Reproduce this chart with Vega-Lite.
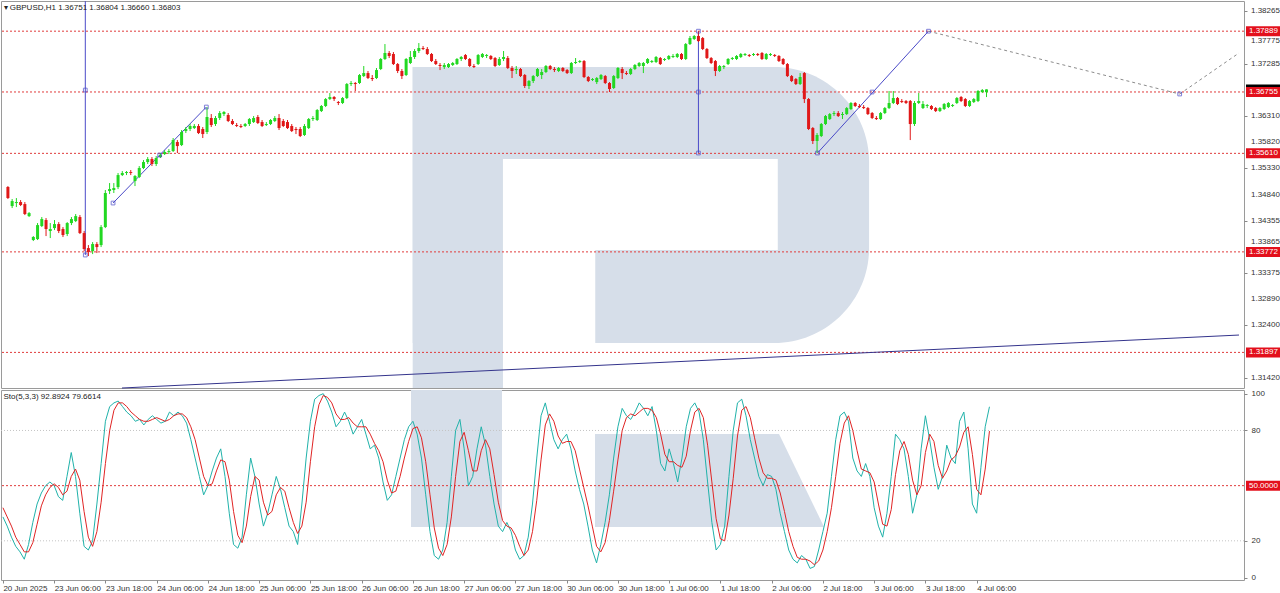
{
"$schema": "https://vega.github.io/schema/vega-lite/v6.json",
"padding": 0,
"autosize": {"type": "pad"},
"background": "white",
"spacing": 0,
"config": {"font": "Liberation Sans", "view": {"stroke": "#9a9a9a", "strokeWidth": 1}, "axis": {"grid": false}},
"datasets": {
"bars": [
{"i":0,"o":1.34981,"h":1.35000,"l":1.34758,"c":1.34776,"k":33,"d":38},
{"i":1,"o":1.34627,"h":1.34758,"l":1.34590,"c":1.34720,"k":28,"d":33},
{"i":2,"o":1.34683,"h":1.34776,"l":1.34608,"c":1.34702,"k":22,"d":28},
{"i":3,"o":1.34702,"h":1.34739,"l":1.34627,"c":1.34646,"k":17,"d":22},
{"i":4,"o":1.34664,"h":1.34702,"l":1.34459,"c":1.34478,"k":14,"d":18},
{"i":5,"o":1.34440,"h":1.34515,"l":1.34422,"c":1.34496,"k":10,"d":14},
{"i":6,"o":1.33993,"h":1.34067,"l":1.33974,"c":1.34049,"k":18,"d":14},
{"i":7,"o":1.34011,"h":1.34310,"l":1.33993,"c":1.34272,"k":30,"d":19},
{"i":8,"o":1.34254,"h":1.34422,"l":1.34235,"c":1.34384,"k":40,"d":29},
{"i":9,"o":1.34366,"h":1.34403,"l":1.34067,"c":1.34198,"k":46,"d":39},
{"i":10,"o":1.34161,"h":1.34310,"l":1.34030,"c":1.34198,"k":50,"d":45},
{"i":11,"o":1.34216,"h":1.34366,"l":1.34179,"c":1.34291,"k":52,"d":49},
{"i":12,"o":1.34291,"h":1.34328,"l":1.34123,"c":1.34161,"k":50,"d":51},
{"i":13,"o":1.34198,"h":1.34235,"l":1.34049,"c":1.34086,"k":44,"d":49},
{"i":14,"o":1.34105,"h":1.34328,"l":1.34067,"c":1.34310,"k":42,"d":45},
{"i":15,"o":1.34310,"h":1.34422,"l":1.34272,"c":1.34384,"k":55,"d":47},
{"i":16,"o":1.34347,"h":1.34478,"l":1.34328,"c":1.34440,"k":68,"d":55},
{"i":17,"o":1.34422,"h":1.34459,"l":1.34105,"c":1.34123,"k":55,"d":59},
{"i":18,"o":1.34123,"h":1.34161,"l":1.33787,"c":1.33825,"k":35,"d":53},
{"i":19,"o":1.33843,"h":1.33899,"l":1.33694,"c":1.33769,"k":17,"d":36},
{"i":20,"o":1.33787,"h":1.33955,"l":1.33731,"c":1.33918,"k":15,"d":22},
{"i":21,"o":1.33918,"h":1.33955,"l":1.33750,"c":1.33862,"k":20,"d":17},
{"i":22,"o":1.33899,"h":1.34272,"l":1.33862,"c":1.34235,"k":40,"d":25},
{"i":23,"o":1.34235,"h":1.34926,"l":1.34216,"c":1.34870,"k":62,"d":41},
{"i":24,"o":1.34907,"h":1.35056,"l":1.34851,"c":1.34944,"k":85,"d":62},
{"i":25,"o":1.34926,"h":1.35056,"l":1.34870,"c":1.34963,"k":93,"d":80},
{"i":26,"o":1.34981,"h":1.35243,"l":1.34944,"c":1.35205,"k":95,"d":91},
{"i":27,"o":1.35205,"h":1.35280,"l":1.35187,"c":1.35243,"k":96,"d":95},
{"i":28,"o":1.35243,"h":1.35280,"l":1.35205,"c":1.35261,"k":93,"d":95},
{"i":29,"o":1.35261,"h":1.35299,"l":1.35205,"c":1.35243,"k":90,"d":93},
{"i":30,"o":1.35093,"h":1.35205,"l":1.35000,"c":1.35187,"k":88,"d":90},
{"i":31,"o":1.35168,"h":1.35373,"l":1.35149,"c":1.35336,"k":85,"d":88},
{"i":32,"o":1.35336,"h":1.35485,"l":1.35317,"c":1.35448,"k":86,"d":86},
{"i":33,"o":1.35448,"h":1.35541,"l":1.35411,"c":1.35504,"k":83,"d":85},
{"i":34,"o":1.35504,"h":1.35541,"l":1.35373,"c":1.35411,"k":86,"d":85},
{"i":35,"o":1.35411,"h":1.35560,"l":1.35373,"c":1.35523,"k":88,"d":86},
{"i":36,"o":1.35541,"h":1.35616,"l":1.35523,"c":1.35579,"k":86,"d":87},
{"i":37,"o":1.35597,"h":1.35672,"l":1.35579,"c":1.35635,"k":84,"d":86},
{"i":38,"o":1.35635,"h":1.35690,"l":1.35597,"c":1.35653,"k":85,"d":85},
{"i":39,"o":1.35653,"h":1.35896,"l":1.35635,"c":1.35858,"k":90,"d":86},
{"i":40,"o":1.35821,"h":1.35858,"l":1.35616,"c":1.35746,"k":88,"d":88},
{"i":41,"o":1.35765,"h":1.36045,"l":1.35746,"c":1.36008,"k":90,"d":89},
{"i":42,"o":1.36026,"h":1.36101,"l":1.35989,"c":1.36064,"k":88,"d":89},
{"i":43,"o":1.36064,"h":1.36157,"l":1.36026,"c":1.36120,"k":84,"d":87},
{"i":44,"o":1.36082,"h":1.36157,"l":1.36064,"c":1.36120,"k":75,"d":82},
{"i":45,"o":1.36120,"h":1.36157,"l":1.35970,"c":1.35989,"k":65,"d":75},
{"i":46,"o":1.36064,"h":1.36101,"l":1.35896,"c":1.35970,"k":55,"d":65},
{"i":47,"o":1.36008,"h":1.36474,"l":1.35970,"c":1.36288,"k":45,"d":55},
{"i":48,"o":1.36269,"h":1.36343,"l":1.36101,"c":1.36138,"k":50,"d":50},
{"i":49,"o":1.36157,"h":1.36306,"l":1.36120,"c":1.36269,"k":58,"d":51},
{"i":50,"o":1.36269,"h":1.36399,"l":1.36232,"c":1.36362,"k":65,"d":58},
{"i":51,"o":1.36343,"h":1.36399,"l":1.36306,"c":1.36381,"k":70,"d":64},
{"i":52,"o":1.36325,"h":1.36362,"l":1.36194,"c":1.36213,"k":55,"d":63},
{"i":53,"o":1.36213,"h":1.36250,"l":1.36138,"c":1.36157,"k":35,"d":53},
{"i":54,"o":1.36138,"h":1.36176,"l":1.36101,"c":1.36120,"k":18,"d":36},
{"i":55,"o":1.36120,"h":1.36157,"l":1.36082,"c":1.36101,"k":16,"d":23},
{"i":56,"o":1.36120,"h":1.36176,"l":1.36101,"c":1.36157,"k":22,"d":19},
{"i":57,"o":1.36157,"h":1.36269,"l":1.36120,"c":1.36250,"k":45,"d":28},
{"i":58,"o":1.36194,"h":1.36306,"l":1.36176,"c":1.36269,"k":65,"d":44},
{"i":59,"o":1.36288,"h":1.36325,"l":1.36157,"c":1.36176,"k":55,"d":55},
{"i":60,"o":1.36194,"h":1.36232,"l":1.36101,"c":1.36120,"k":40,"d":53},
{"i":61,"o":1.36138,"h":1.36194,"l":1.36120,"c":1.36157,"k":28,"d":41},
{"i":62,"o":1.36157,"h":1.36250,"l":1.36138,"c":1.36232,"k":35,"d":34},
{"i":63,"o":1.36213,"h":1.36306,"l":1.36194,"c":1.36269,"k":45,"d":36},
{"i":64,"o":1.36269,"h":1.36343,"l":1.36045,"c":1.36082,"k":55,"d":45},
{"i":65,"o":1.36213,"h":1.36250,"l":1.36101,"c":1.36120,"k":48,"d":49},
{"i":66,"o":1.36194,"h":1.36232,"l":1.36064,"c":1.36082,"k":38,"d":47},
{"i":67,"o":1.36120,"h":1.36157,"l":1.36008,"c":1.36026,"k":28,"d":38},
{"i":68,"o":1.36064,"h":1.36101,"l":1.35970,"c":1.36045,"k":25,"d":30},
{"i":69,"o":1.36064,"h":1.36101,"l":1.35914,"c":1.35933,"k":18,"d":24},
{"i":70,"o":1.35952,"h":1.36157,"l":1.35933,"c":1.36120,"k":40,"d":28},
{"i":71,"o":1.36082,"h":1.36269,"l":1.36064,"c":1.36250,"k":65,"d":41},
{"i":72,"o":1.36250,"h":1.36306,"l":1.36213,"c":1.36269,"k":85,"d":63},
{"i":73,"o":1.36232,"h":1.36437,"l":1.36213,"c":1.36418,"k":97,"d":82},
{"i":74,"o":1.36399,"h":1.36511,"l":1.36381,"c":1.36493,"k":99,"d":94},
{"i":75,"o":1.36493,"h":1.36642,"l":1.36474,"c":1.36623,"k":100,"d":99},
{"i":76,"o":1.36623,"h":1.36735,"l":1.36605,"c":1.36661,"k":96,"d":98},
{"i":77,"o":1.36661,"h":1.36679,"l":1.36586,"c":1.36623,"k":90,"d":95},
{"i":78,"o":1.36567,"h":1.36586,"l":1.36511,"c":1.36549,"k":82,"d":89},
{"i":79,"o":1.36549,"h":1.36661,"l":1.36530,"c":1.36642,"k":85,"d":86},
{"i":80,"o":1.36642,"h":1.36922,"l":1.36623,"c":1.36903,"k":90,"d":86},
{"i":81,"o":1.36903,"h":1.36959,"l":1.36866,"c":1.36922,"k":85,"d":87},
{"i":82,"o":1.36922,"h":1.36940,"l":1.36773,"c":1.36903,"k":78,"d":84},
{"i":83,"o":1.36922,"h":1.37090,"l":1.36903,"c":1.37071,"k":82,"d":82},
{"i":84,"o":1.37052,"h":1.37239,"l":1.37034,"c":1.37108,"k":86,"d":82},
{"i":85,"o":1.37108,"h":1.37146,"l":1.36996,"c":1.37015,"k":78,"d":82},
{"i":86,"o":1.37015,"h":1.37071,"l":1.36959,"c":1.36996,"k":70,"d":78},
{"i":87,"o":1.37015,"h":1.37202,"l":1.36996,"c":1.37164,"k":72,"d":73},
{"i":88,"o":1.37183,"h":1.37388,"l":1.37164,"c":1.37370,"k":65,"d":69},
{"i":89,"o":1.37370,"h":1.37649,"l":1.37351,"c":1.37482,"k":52,"d":63},
{"i":90,"o":1.37482,"h":1.37519,"l":1.37388,"c":1.37426,"k":42,"d":53},
{"i":91,"o":1.37463,"h":1.37500,"l":1.37258,"c":1.37276,"k":45,"d":46},
{"i":92,"o":1.37276,"h":1.37295,"l":1.37108,"c":1.37146,"k":55,"d":47},
{"i":93,"o":1.37146,"h":1.37183,"l":1.36996,"c":1.37052,"k":65,"d":55},
{"i":94,"o":1.37071,"h":1.37388,"l":1.37052,"c":1.37370,"k":75,"d":65},
{"i":95,"o":1.37295,"h":1.37519,"l":1.37276,"c":1.37407,"k":82,"d":74},
{"i":96,"o":1.37407,"h":1.37556,"l":1.37370,"c":1.37519,"k":85,"d":81},
{"i":97,"o":1.37519,"h":1.37668,"l":1.37482,"c":1.37575,"k":78,"d":82},
{"i":98,"o":1.37575,"h":1.37612,"l":1.37537,"c":1.37556,"k":65,"d":76},
{"i":99,"o":1.37556,"h":1.37593,"l":1.37444,"c":1.37463,"k":45,"d":63},
{"i":100,"o":1.37463,"h":1.37482,"l":1.37314,"c":1.37332,"k":25,"d":45},
{"i":101,"o":1.37332,"h":1.37370,"l":1.37258,"c":1.37276,"k":12,"d":27},
{"i":102,"o":1.37258,"h":1.37295,"l":1.37164,"c":1.37239,"k":10,"d":16},
{"i":103,"o":1.37220,"h":1.37295,"l":1.37183,"c":1.37258,"k":15,"d":12},
{"i":104,"o":1.37220,"h":1.37295,"l":1.37202,"c":1.37276,"k":30,"d":18},
{"i":105,"o":1.37258,"h":1.37314,"l":1.37239,"c":1.37295,"k":55,"d":33},
{"i":106,"o":1.37276,"h":1.37388,"l":1.37258,"c":1.37370,"k":80,"d":55},
{"i":107,"o":1.37370,"h":1.37426,"l":1.37332,"c":1.37407,"k":86,"d":74},
{"i":108,"o":1.37444,"h":1.37463,"l":1.37351,"c":1.37370,"k":70,"d":79},
{"i":109,"o":1.37370,"h":1.37388,"l":1.37220,"c":1.37239,"k":50,"d":69},
{"i":110,"o":1.37239,"h":1.37276,"l":1.37202,"c":1.37220,"k":55,"d":58},
{"i":111,"o":1.37276,"h":1.37463,"l":1.37258,"c":1.37444,"k":70,"d":58},
{"i":112,"o":1.37407,"h":1.37482,"l":1.37388,"c":1.37463,"k":82,"d":69},
{"i":113,"o":1.37426,"h":1.37463,"l":1.37388,"c":1.37444,"k":72,"d":75},
{"i":114,"o":1.37426,"h":1.37444,"l":1.37351,"c":1.37370,"k":55,"d":70},
{"i":115,"o":1.37388,"h":1.37407,"l":1.37220,"c":1.37239,"k":40,"d":56},
{"i":116,"o":1.37258,"h":1.37407,"l":1.37239,"c":1.37370,"k":28,"d":41},
{"i":117,"o":1.37370,"h":1.37519,"l":1.37332,"c":1.37407,"k":25,"d":31},
{"i":118,"o":1.37388,"h":1.37426,"l":1.37183,"c":1.37202,"k":30,"d":28},
{"i":119,"o":1.37202,"h":1.37239,"l":1.37015,"c":1.37146,"k":25,"d":27},
{"i":120,"o":1.37164,"h":1.37239,"l":1.37090,"c":1.37183,"k":15,"d":23},
{"i":121,"o":1.37183,"h":1.37202,"l":1.37034,"c":1.37052,"k":10,"d":17},
{"i":122,"o":1.37071,"h":1.37090,"l":1.36829,"c":1.36866,"k":12,"d":12},
{"i":123,"o":1.36866,"h":1.36978,"l":1.36810,"c":1.36959,"k":22,"d":15},
{"i":124,"o":1.36959,"h":1.37071,"l":1.36922,"c":1.37052,"k":40,"d":25},
{"i":125,"o":1.37052,"h":1.37202,"l":1.37034,"c":1.37183,"k":65,"d":42},
{"i":126,"o":1.37071,"h":1.37183,"l":1.36996,"c":1.37127,"k":88,"d":64},
{"i":127,"o":1.37127,"h":1.37258,"l":1.37108,"c":1.37239,"k":95,"d":83},
{"i":128,"o":1.37239,"h":1.37258,"l":1.37164,"c":1.37183,"k":85,"d":89},
{"i":129,"o":1.37183,"h":1.37220,"l":1.37127,"c":1.37164,"k":75,"d":85},
{"i":130,"o":1.37146,"h":1.37220,"l":1.37127,"c":1.37202,"k":70,"d":77},
{"i":131,"o":1.37202,"h":1.37220,"l":1.37127,"c":1.37146,"k":75,"d":73},
{"i":132,"o":1.37164,"h":1.37183,"l":1.37090,"c":1.37108,"k":78,"d":74},
{"i":133,"o":1.37108,"h":1.37314,"l":1.37090,"c":1.37295,"k":70,"d":74},
{"i":134,"o":1.37295,"h":1.37388,"l":1.37276,"c":1.37314,"k":58,"d":69},
{"i":135,"o":1.37314,"h":1.37351,"l":1.37295,"c":1.37332,"k":48,"d":59},
{"i":136,"o":1.37332,"h":1.37351,"l":1.37015,"c":1.37034,"k":40,"d":49},
{"i":137,"o":1.37034,"h":1.37052,"l":1.36940,"c":1.36959,"k":28,"d":39},
{"i":138,"o":1.36978,"h":1.37015,"l":1.36959,"c":1.36996,"k":15,"d":28},
{"i":139,"o":1.36940,"h":1.37034,"l":1.36903,"c":1.37015,"k":8,"d":17},
{"i":140,"o":1.36996,"h":1.37090,"l":1.36978,"c":1.37071,"k":18,"d":14},
{"i":141,"o":1.37052,"h":1.37071,"l":1.36903,"c":1.36922,"k":30,"d":19},
{"i":142,"o":1.36922,"h":1.36940,"l":1.36754,"c":1.36810,"k":45,"d":31},
{"i":143,"o":1.36829,"h":1.37071,"l":1.36810,"c":1.37052,"k":65,"d":47},
{"i":144,"o":1.37015,"h":1.37220,"l":1.36996,"c":1.37202,"k":82,"d":64},
{"i":145,"o":1.37183,"h":1.37220,"l":1.36996,"c":1.37108,"k":92,"d":80},
{"i":146,"o":1.37108,"h":1.37146,"l":1.37071,"c":1.37090,"k":88,"d":87},
{"i":147,"o":1.37090,"h":1.37202,"l":1.37071,"c":1.37183,"k":86,"d":89},
{"i":148,"o":1.37183,"h":1.37276,"l":1.37164,"c":1.37258,"k":90,"d":88},
{"i":149,"o":1.37239,"h":1.37314,"l":1.37220,"c":1.37295,"k":95,"d":90},
{"i":150,"o":1.37239,"h":1.37314,"l":1.37108,"c":1.37295,"k":92,"d":92},
{"i":151,"o":1.37295,"h":1.37388,"l":1.37276,"c":1.37370,"k":88,"d":92},
{"i":152,"o":1.37314,"h":1.37351,"l":1.37295,"c":1.37332,"k":93,"d":91},
{"i":153,"o":1.37314,"h":1.37426,"l":1.37295,"c":1.37407,"k":80,"d":87},
{"i":154,"o":1.37388,"h":1.37407,"l":1.37258,"c":1.37276,"k":62,"d":78},
{"i":155,"o":1.37351,"h":1.37388,"l":1.37332,"c":1.37370,"k":58,"d":67},
{"i":156,"o":1.37370,"h":1.37444,"l":1.37351,"c":1.37426,"k":70,"d":63},
{"i":157,"o":1.37407,"h":1.37463,"l":1.37388,"c":1.37426,"k":62,"d":63},
{"i":158,"o":1.37407,"h":1.37482,"l":1.37388,"c":1.37463,"k":52,"d":61},
{"i":159,"o":1.37463,"h":1.37482,"l":1.37351,"c":1.37370,"k":65,"d":60},
{"i":160,"o":1.37370,"h":1.37668,"l":1.37351,"c":1.37649,"k":82,"d":66},
{"i":161,"o":1.37649,"h":1.37799,"l":1.37631,"c":1.37761,"k":92,"d":80},
{"i":162,"o":1.37743,"h":1.37817,"l":1.37724,"c":1.37799,"k":95,"d":90},
{"i":163,"o":1.37799,"h":1.37889,"l":1.37687,"c":1.37705,"k":90,"d":92},
{"i":164,"o":1.37761,"h":1.37780,"l":1.37537,"c":1.37556,"k":75,"d":87},
{"i":165,"o":1.37556,"h":1.37575,"l":1.37370,"c":1.37388,"k":52,"d":72},
{"i":166,"o":1.37388,"h":1.37407,"l":1.37276,"c":1.37295,"k":30,"d":52},
{"i":167,"o":1.37332,"h":1.37351,"l":1.37052,"c":1.37146,"k":15,"d":32},
{"i":168,"o":1.37146,"h":1.37258,"l":1.37127,"c":1.37239,"k":18,"d":21},
{"i":169,"o":1.37220,"h":1.37258,"l":1.37183,"c":1.37239,"k":28,"d":20},
{"i":170,"o":1.37276,"h":1.37388,"l":1.37258,"c":1.37370,"k":55,"d":34},
{"i":171,"o":1.37370,"h":1.37407,"l":1.37351,"c":1.37388,"k":80,"d":54},
{"i":172,"o":1.37370,"h":1.37444,"l":1.37351,"c":1.37426,"k":95,"d":77},
{"i":173,"o":1.37407,"h":1.37482,"l":1.37388,"c":1.37463,"k":97,"d":91},
{"i":174,"o":1.37444,"h":1.37482,"l":1.37426,"c":1.37463,"k":88,"d":93},
{"i":175,"o":1.37444,"h":1.37463,"l":1.37407,"c":1.37426,"k":75,"d":87},
{"i":176,"o":1.37444,"h":1.37482,"l":1.37426,"c":1.37463,"k":65,"d":76},
{"i":177,"o":1.37463,"h":1.37482,"l":1.37426,"c":1.37444,"k":55,"d":65},
{"i":178,"o":1.37482,"h":1.37500,"l":1.37351,"c":1.37370,"k":50,"d":57},
{"i":179,"o":1.37370,"h":1.37482,"l":1.37351,"c":1.37463,"k":56,"d":54},
{"i":180,"o":1.37444,"h":1.37482,"l":1.37426,"c":1.37463,"k":55,"d":54},
{"i":181,"o":1.37444,"h":1.37463,"l":1.37407,"c":1.37426,"k":48,"d":53},
{"i":182,"o":1.37426,"h":1.37444,"l":1.37314,"c":1.37332,"k":35,"d":46},
{"i":183,"o":1.37370,"h":1.37388,"l":1.37258,"c":1.37276,"k":25,"d":36},
{"i":184,"o":1.37276,"h":1.37295,"l":1.37034,"c":1.37052,"k":15,"d":25},
{"i":185,"o":1.37052,"h":1.37071,"l":1.36940,"c":1.36959,"k":10,"d":17},
{"i":186,"o":1.36996,"h":1.37015,"l":1.36885,"c":1.36903,"k":8,"d":11},
{"i":187,"o":1.36903,"h":1.37108,"l":1.36885,"c":1.37034,"k":12,"d":10},
{"i":188,"o":1.37108,"h":1.37127,"l":1.36549,"c":1.36623,"k":10,"d":10},
{"i":189,"o":1.36623,"h":1.36642,"l":1.36045,"c":1.36064,"k":5,"d":9},
{"i":190,"o":1.36082,"h":1.36101,"l":1.35784,"c":1.35840,"k":6,"d":7},
{"i":191,"o":1.35840,"h":1.35989,"l":1.35616,"c":1.35952,"k":15,"d":9},
{"i":192,"o":1.35933,"h":1.36176,"l":1.35914,"c":1.36157,"k":25,"d":15},
{"i":193,"o":1.36157,"h":1.36325,"l":1.36138,"c":1.36306,"k":35,"d":25},
{"i":194,"o":1.36250,"h":1.36362,"l":1.36232,"c":1.36343,"k":55,"d":38},
{"i":195,"o":1.36343,"h":1.36399,"l":1.36306,"c":1.36362,"k":75,"d":55},
{"i":196,"o":1.36362,"h":1.36399,"l":1.36288,"c":1.36306,"k":88,"d":73},
{"i":197,"o":1.36325,"h":1.36381,"l":1.36250,"c":1.36343,"k":90,"d":84},
{"i":198,"o":1.36343,"h":1.36474,"l":1.36325,"c":1.36455,"k":85,"d":88},
{"i":199,"o":1.36437,"h":1.36567,"l":1.36418,"c":1.36549,"k":65,"d":80},
{"i":200,"o":1.36549,"h":1.36567,"l":1.36474,"c":1.36493,"k":58,"d":69},
{"i":201,"o":1.36493,"h":1.36530,"l":1.36455,"c":1.36474,"k":55,"d":59},
{"i":202,"o":1.36474,"h":1.36511,"l":1.36437,"c":1.36455,"k":62,"d":58},
{"i":203,"o":1.36455,"h":1.36474,"l":1.36325,"c":1.36343,"k":55,"d":57},
{"i":204,"o":1.36362,"h":1.36381,"l":1.36250,"c":1.36269,"k":38,"d":52},
{"i":205,"o":1.36269,"h":1.36306,"l":1.36232,"c":1.36250,"k":28,"d":40},
{"i":206,"o":1.36250,"h":1.36381,"l":1.36232,"c":1.36362,"k":22,"d":29},
{"i":207,"o":1.36362,"h":1.36474,"l":1.36343,"c":1.36455,"k":35,"d":28},
{"i":208,"o":1.36455,"h":1.36773,"l":1.36437,"c":1.36549,"k":55,"d":37},
{"i":209,"o":1.36549,"h":1.36773,"l":1.36530,"c":1.36642,"k":78,"d":56},
{"i":210,"o":1.36642,"h":1.36661,"l":1.36511,"c":1.36530,"k":75,"d":69},
{"i":211,"o":1.36586,"h":1.36623,"l":1.36549,"c":1.36567,"k":70,"d":74},
{"i":212,"o":1.36586,"h":1.36605,"l":1.36530,"c":1.36549,"k":55,"d":67},
{"i":213,"o":1.36586,"h":1.36605,"l":1.35858,"c":1.36157,"k":35,"d":53},
{"i":214,"o":1.36157,"h":1.36586,"l":1.36120,"c":1.36549,"k":45,"d":45},
{"i":215,"o":1.36549,"h":1.36735,"l":1.36530,"c":1.36586,"k":70,"d":50},
{"i":216,"o":1.36455,"h":1.36586,"l":1.36437,"c":1.36530,"k":88,"d":68},
{"i":217,"o":1.36493,"h":1.36530,"l":1.36455,"c":1.36511,"k":75,"d":78},
{"i":218,"o":1.36493,"h":1.36511,"l":1.36418,"c":1.36437,"k":60,"d":74},
{"i":219,"o":1.36455,"h":1.36474,"l":1.36381,"c":1.36399,"k":48,"d":61},
{"i":220,"o":1.36399,"h":1.36474,"l":1.36381,"c":1.36455,"k":55,"d":54},
{"i":221,"o":1.36437,"h":1.36549,"l":1.36418,"c":1.36530,"k":72,"d":58},
{"i":222,"o":1.36474,"h":1.36567,"l":1.36455,"c":1.36549,"k":65,"d":64},
{"i":223,"o":1.36493,"h":1.36530,"l":1.36474,"c":1.36511,"k":62,"d":66},
{"i":224,"o":1.36549,"h":1.36661,"l":1.36530,"c":1.36642,"k":85,"d":71},
{"i":225,"o":1.36661,"h":1.36679,"l":1.36567,"c":1.36586,"k":90,"d":79},
{"i":226,"o":1.36623,"h":1.36642,"l":1.36474,"c":1.36493,"k":70,"d":82},
{"i":227,"o":1.36493,"h":1.36605,"l":1.36474,"c":1.36586,"k":40,"d":67},
{"i":228,"o":1.36567,"h":1.36642,"l":1.36549,"c":1.36623,"k":35,"d":48},
{"i":229,"o":1.36586,"h":1.36791,"l":1.36567,"c":1.36773,"k":60,"d":45},
{"i":230,"o":1.36754,"h":1.36810,"l":1.36735,"c":1.36791,"k":82,"d":59},
{"i":231,"o":1.36751,"h":1.36804,"l":1.36660,"c":1.36803,"k":92.8924,"d":79.6614}
],
"segs": [
{"name":"trend","i1":26.93,"p1":1.31233,"i2":290.6,"p2":1.32221},
{"name":"wave","i1":18.27,"p1":1.3845,"i2":18.27,"p2":1.33713},
{"name":"wave","i1":24.82,"p1":1.34683,"i2":46.84,"p2":1.36474},
{"name":"wave","i1":163,"p1":1.37889,"i2":163,"p2":1.35616},
{"name":"wave","i1":191.1,"p1":1.35616,"i2":217.3,"p2":1.37889},
{"name":"fc","i1":217.3,"p1":1.37889,"i2":276.6,"p2":1.36717},
{"name":"fc","i1":276.6,"p1":1.36717,"i2":290.6,"p2":1.37482}
],
"marks": [
{"i":18.27,"p":1.36791},{"i":18.27,"p":1.33713},{"i":24.82,"p":1.34683},{"i":35.83,"p":1.35579},{"i":46.84,"p":1.36474},
{"i":163,"p":1.37889},{"i":163,"p":1.36754},{"i":163,"p":1.35616},{"i":191.1,"p":1.35616},{"i":203.98,"p":1.36754},{"i":217.3,"p":1.37889},{"i":276.6,"p":1.36717}
],
"levels": [{"p":1.37889},{"p":1.36755},{"p":1.3561},{"p":1.33772},{"p":1.31897}],
"pticks": [{"p":1.38265},{"p":1.37775},{"p":1.37285},{"p":1.3631},{"p":1.3582},{"p":1.3533},{"p":1.3484},{"p":1.34355},{"p":1.33865},{"p":1.33375},{"p":1.3289},{"p":1.324},{"p":1.3142}],
"bid": [{"p":1.36803}],
"flagsTop": [
{"p":1.37889,"label":"1.37889"},
{"p":1.36755,"label":"1.36755"},
{"p":1.3561,"label":"1.35610"},
{"p":1.33772,"label":"1.33772"},
{"p":1.31897,"label":"1.31897"}
],
"wmTop": [
{"part":"stem","i1":95.55,"i2":116.86,"p1":1.3722,"p2":1.31233},
{"part":"bowl","i1":95.55,"i2":203.28,"p1":1.3722,"p2":1.32072},
{"part":"hole","i1":116.86,"i2":181.73,"p1":1.35504,"p2":1.33806},
{"part":"hole","i1":116.86,"i2":138.64,"p1":1.35504,"p2":1.32072}
],
"wmBot": [{"i1":95.55,"i2":116.86,"v1":102,"v2":27.5}],
"leg": [{"i":138.64,"top":78.1,"bot":27.5},{"i":181.73,"top":78.1,"bot":27.5},{"i":192.27,"top":27.5,"bot":27.5}],
"stochLv": [{"v":20,"kind":"g"},{"v":80,"kind":"g"},{"v":50,"kind":"r"}],
"flagsBot": [{"v":50,"label":"50.0000"}]
},
"resolve": {"scale": {"x": "independent", "y": "independent"}},
"vconcat": [
{
"width": 1243, "height": 387,
"title": {"text": "▾ GBPUSD,H1  1.36751 1.36804 1.36660 1.36803", "anchor": "start", "offset": -11, "dx": 3, "fontSize": 8, "color": "#222", "fontWeight": "normal", "font": "Liberation Sans"},
"layer": [
{"data": {"name": "wmTop"}, "transform": [{"filter": "datum.part == 'stem'"}], "mark": {"type": "rect", "color": "#d6dee9"},
 "encoding": {
  "x": {"field": "i1", "type": "quantitative", "scale": {"domain": [-0.45, 290.6], "nice": false, "zero": false}, "axis": null, "title": null},
  "x2": {"field": "i2"},
  "y": {"field": "p1", "type": "quantitative", "title": null, "scale": {"domain": [1.31233, 1.38452], "nice": false, "zero": false},
   "axis": {"orient": "right", "values": [1.38265, 1.37775, 1.37285, 1.36795, 1.3631, 1.3582, 1.3533, 1.3484, 1.34355, 1.33865, 1.33375, 1.3289, 1.324, 1.3191, 1.3142], "labels": false, "tickSize": 3, "tickColor": "#888", "domain": false}},
  "y2": {"field": "p2"}}},
{"data": {"name": "wmTop"}, "transform": [{"filter": "datum.part == 'bowl'"}], "mark": {"type": "rect", "color": "#d6dee9", "cornerRadiusTopRight": 95, "cornerRadiusBottomRight": 95},
 "encoding": {"x": {"field": "i1", "type": "quantitative", "axis": null, "title": null}, "x2": {"field": "i2"}, "y": {"field": "p1", "type": "quantitative", "title": null}, "y2": {"field": "p2"}}},
{"data": {"name": "wmTop"}, "transform": [{"filter": "datum.part == 'hole'"}], "mark": {"type": "rect", "color": "#ffffff"},
 "encoding": {"x": {"field": "i1", "type": "quantitative", "axis": null, "title": null}, "x2": {"field": "i2"}, "y": {"field": "p1", "type": "quantitative", "title": null}, "y2": {"field": "p2"}}},
{"data": {"name": "levels"}, "mark": {"type": "rule", "color": "#e03c3c", "strokeDash": [2, 2], "strokeWidth": 1},
 "encoding": {"y": {"field": "p", "type": "quantitative", "title": null}}},
{"data": {"name": "segs"}, "transform": [{"filter": "datum.name == 'trend'"}], "mark": {"type": "rule", "color": "#34348c", "strokeWidth": 1},
 "encoding": {"x": {"field": "i1", "type": "quantitative", "axis": null, "title": null}, "x2": {"field": "i2"}, "y": {"field": "p1", "type": "quantitative", "title": null}, "y2": {"field": "p2"}}},
{"data": {"name": "segs"}, "transform": [{"filter": "datum.name == 'wave'"}], "mark": {"type": "rule", "color": "#4a4ac8", "strokeWidth": 1},
 "encoding": {"x": {"field": "i1", "type": "quantitative", "axis": null, "title": null}, "x2": {"field": "i2"}, "y": {"field": "p1", "type": "quantitative", "title": null}, "y2": {"field": "p2"}}},
{"data": {"name": "segs"}, "transform": [{"filter": "datum.name == 'fc'"}], "mark": {"type": "rule", "color": "#8c8c8c", "strokeWidth": 1, "strokeDash": [3, 3]},
 "encoding": {"x": {"field": "i1", "type": "quantitative", "axis": null, "title": null}, "x2": {"field": "i2"}, "y": {"field": "p1", "type": "quantitative", "title": null}, "y2": {"field": "p2"}}},
{"data": {"name": "bars"}, "mark": {"type": "rule", "strokeWidth": 1},
 "encoding": {"x": {"field": "i", "type": "quantitative", "axis": null, "title": null}, "y": {"field": "l", "type": "quantitative", "title": null}, "y2": {"field": "h"},
  "color": {"condition": {"test": "datum.c >= datum.o", "value": "#22d822"}, "value": "#e01818"}}},
{"data": {"name": "bars"}, "mark": {"type": "bar", "width": 3},
 "encoding": {"x": {"field": "i", "type": "quantitative", "axis": null, "title": null}, "y": {"field": "o", "type": "quantitative", "title": null}, "y2": {"field": "c"},
  "color": {"condition": {"test": "datum.c >= datum.o", "value": "#22d822"}, "value": "#e01818"}}},
{"data": {"name": "marks"}, "mark": {"type": "point", "shape": "square", "size": 14, "filled": false, "color": "#4a4ac8", "strokeWidth": 1},
 "encoding": {"x": {"field": "i", "type": "quantitative", "axis": null, "title": null}, "y": {"field": "p", "type": "quantitative", "title": null}}},
{"data": {"name": "pticks"}, "transform": [{"filter": "datum.p != 1.37775 && datum.p != 1.33865"}], "mark": {"type": "text", "align": "left", "baseline": "middle", "dx": 7, "fontSize": 8, "color": "#333"},
 "encoding": {"x": {"value": "width"}, "y": {"field": "p", "type": "quantitative", "title": null}, "text": {"field": "p", "type": "quantitative", "format": ".5f"}}},
{"data": {"name": "pticks"}, "transform": [{"filter": "datum.p == 1.37775"}], "mark": {"type": "text", "align": "left", "baseline": "middle", "dx": 7, "dy": 4, "fontSize": 8, "color": "#333"},
 "encoding": {"x": {"value": "width"}, "y": {"field": "p", "type": "quantitative", "title": null}, "text": {"field": "p", "type": "quantitative", "format": ".5f"}}},
{"data": {"name": "pticks"}, "transform": [{"filter": "datum.p == 1.33865"}], "mark": {"type": "text", "align": "left", "baseline": "middle", "dx": 7, "dy": -5, "fontSize": 8, "color": "#333"},
 "encoding": {"x": {"value": "width"}, "y": {"field": "p", "type": "quantitative", "title": null}, "text": {"field": "p", "type": "quantitative", "format": ".5f"}}},
{"data": {"name": "bid"}, "mark": {"type": "rule", "strokeWidth": 10, "strokeCap": "butt", "xOffset": 2, "x2Offset": 36, "color": "#000000"},
 "encoding": {"x": {"value": "width"}, "x2": {"value": "width"}, "y": {"field": "p", "type": "quantitative", "title": null}}},
{"data": {"name": "flagsTop"}, "mark": {"type": "rule", "strokeWidth": 10, "strokeCap": "butt", "xOffset": 2, "x2Offset": 36, "color": "#e3101c"},
 "encoding": {"x": {"value": "width"}, "x2": {"value": "width"}, "y": {"field": "p", "type": "quantitative", "title": null}}},
{"data": {"name": "flagsTop"}, "mark": {"type": "text", "align": "left", "baseline": "middle", "dx": 5, "fontSize": 8, "color": "#ffffff"},
 "encoding": {"x": {"value": "width"}, "y": {"field": "p", "type": "quantitative", "title": null}, "text": {"field": "label"}}}
]
},
{
"width": 1243, "height": 190,
"title": {"text": "Sto(5,3,3) 92.8924 79.6614", "anchor": "start", "offset": -11, "dx": 3, "fontSize": 8, "color": "#222", "fontWeight": "normal", "font": "Liberation Sans"},
"layer": [
{"data": {"name": "wmBot"}, "mark": {"type": "rect", "color": "#d6dee9"},
 "encoding": {
  "x": {"field": "i1", "type": "quantitative", "title": null, "scale": {"domain": [-0.45, 290.6], "nice": false, "zero": false},
   "axis": {"orient": "bottom", "values": [0,12,24,36,48,60,72,84,96,108,120,132,144,156,168,180,192,204,216,228],
    "labelExpr": "['20 Jun 2025','23 Jun 06:00','23 Jun 18:00','24 Jun 06:00','24 Jun 18:00','25 Jun 06:00','25 Jun 18:00','26 Jun 06:00','26 Jun 18:00','27 Jun 06:00','27 Jun 18:00','30 Jun 06:00','30 Jun 18:00','1 Jul 06:00','1 Jul 18:00','2 Jul 06:00','2 Jul 18:00','3 Jul 06:00','3 Jul 18:00','4 Jul 06:00'][round(datum.value/12)]",
    "labelAlign": "left", "labelFontSize": 8, "labelColor": "#333", "tickSize": 3, "tickColor": "#888", "labelPadding": 1, "domain": false, "labelOverlap": false, "labelFlush": false, "labelBound": false}},
  "x2": {"field": "i2"},
  "y": {"field": "v1", "type": "quantitative", "title": null, "scale": {"domain": [-1.3, 102], "nice": false, "zero": false},
   "axis": {"orient": "right", "values": [0, 20, 80, 100], "format": "d", "labelFontSize": 8, "labelColor": "#333", "tickSize": 3, "tickColor": "#888", "domain": false, "labelPadding": 4, "labelOverlap": false, "labelBound": false, "labelFlush": false}},
  "y2": {"field": "v2"}}},
{"data": {"name": "leg"}, "mark": {"type": "area", "color": "#d6dee9", "orient": "vertical", "interpolate": "linear"},
 "encoding": {"x": {"field": "i", "type": "quantitative", "title": null}, "y": {"field": "top", "type": "quantitative", "title": null}, "y2": {"field": "bot"}}},
{"data": {"name": "stochLv"}, "transform": [{"filter": "datum.kind == 'g'"}], "mark": {"type": "rule", "color": "#c4c4c4", "strokeDash": [1, 2], "strokeWidth": 1},
 "encoding": {"y": {"field": "v", "type": "quantitative", "title": null}}},
{"data": {"name": "stochLv"}, "transform": [{"filter": "datum.kind == 'r'"}], "mark": {"type": "rule", "color": "#e03c3c", "strokeDash": [2, 2], "strokeWidth": 1},
 "encoding": {"y": {"field": "v", "type": "quantitative", "title": null}}},
{"data": {"name": "bars"}, "mark": {"type": "line", "color": "#20b2aa", "strokeWidth": 1},
 "encoding": {"x": {"field": "i", "type": "quantitative", "title": null}, "y": {"field": "k", "type": "quantitative", "title": null}}},
{"data": {"name": "bars"}, "mark": {"type": "line", "color": "#e02424", "strokeWidth": 1},
 "encoding": {"x": {"field": "i", "type": "quantitative", "title": null}, "y": {"field": "d", "type": "quantitative", "title": null}}},
{"data": {"name": "flagsBot"}, "mark": {"type": "rule", "strokeWidth": 10, "strokeCap": "butt", "xOffset": 2, "x2Offset": 36, "color": "#e3101c"},
 "encoding": {"x": {"value": "width"}, "x2": {"value": "width"}, "y": {"field": "v", "type": "quantitative", "title": null}}},
{"data": {"name": "flagsBot"}, "mark": {"type": "text", "align": "left", "baseline": "middle", "dx": 5, "fontSize": 8, "color": "#ffffff"},
 "encoding": {"x": {"value": "width"}, "y": {"field": "v", "type": "quantitative", "title": null}, "text": {"field": "label"}}}
]
}
]
}
